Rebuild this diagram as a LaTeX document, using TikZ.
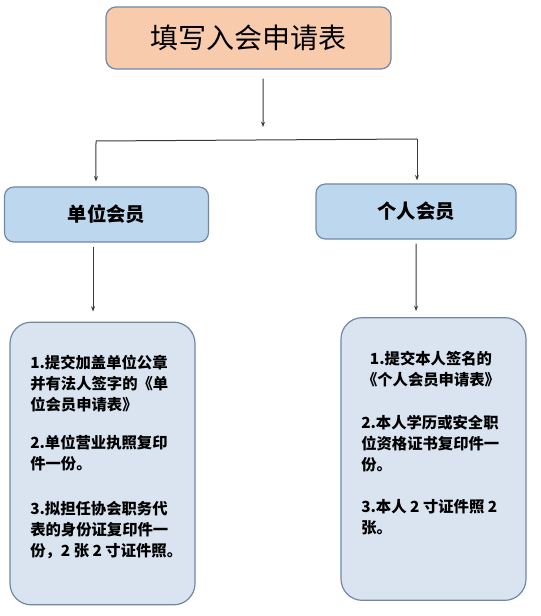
\documentclass[tikz,border=0pt]{standalone}
\usepackage{fontspec}
\setmainfont{Noto Sans CJK SC}
\usetikzlibrary{arrows.meta}
\definecolor{peach}{HTML}{F8CBAD}
\definecolor{midblue}{HTML}{BDD7EE}
\definecolor{lightblue}{HTML}{DAE4F1}
\definecolor{edgeblue}{HTML}{6F88A8}
\definecolor{linegray}{HTML}{3A3A3A}
\tikzset{
  titlebox/.style={draw=edgeblue, fill=peach, rounded corners=7.5pt, line width=0.9pt,
    minimum width=213.75pt, minimum height=46.5pt, font=\fontsize{21pt}{24pt}\selectfont},
  midbox/.style={draw=edgeblue, fill=midblue, rounded corners=7pt, line width=0.9pt,
    minimum width=153pt, minimum height=41.25pt, font=\bfseries\fontsize{14.5pt}{17pt}\selectfont},
  bigbox/.style={draw=edgeblue, fill=lightblue, rounded corners=16pt, line width=0.9pt,
    minimum width=138.75pt, minimum height=212pt},
  bodytext/.style={align=left, inner sep=0pt, font=\bfseries\fontsize{11.5pt}{15.75pt}\selectfont},
  arr/.style={draw=linegray, line width=0.75pt, -{Stealth[length=4pt,width=3pt]}},
  ln/.style={draw=linegray, line width=0.75pt}
}
\begin{document}
\begin{tikzpicture}[x=0.75pt,y=-0.75pt]
\useasboundingbox (0,0) rectangle (540,616);
\node[titlebox] (top) at (248.5,38) {填写入会申请表};
\node[midbox] (unit) at (106.5,214.5) {单位会员};
\node[midbox, minimum width=150pt] (pers) at (416,211.5) {个人会员};
\node[bigbox] (ubig) at (102.5,463.5) {};
\node[bigbox] (pbig) at (433.5,459) {};
\node[bodytext, anchor=north west] (utext) at (30,355) {%
1.提交加盖单位公章\\并有法人签字的《单\\位会员申请表》\\[12.75pt]%
2.单位营业执照复印\\件一份。\\[18pt]%
3.拟担任协会职务代\\表的身份证复印件一\\份，2 张 2 寸证件照。};
\node[bodytext, align=center, anchor=north] (ptext1) at (431,351) {%
1.提交本人签名的\\《个人会员申请表》};
\node[bodytext, anchor=north west] (ptext2) at (361,415) {%
2.本人学历或安全职\\位资格证书复印件一\\份。\\[16pt]%
3.本人 2 寸证件照 2\\张。};
\coordinate (j) at (263,127);
\coordinate (hl) at (96,141);
\coordinate (hr) at (417,139);
\draw[arr] ([xshift=10.9pt,yshift=-6.75pt]top.south) -- (j);
\draw[ln] (hl) -- (hr);
\draw[arr] (hl) -- ([xshift=-7.9pt,yshift=3.75pt]unit.north);
\draw[arr] (hr) -- ([xshift=0.75pt,yshift=2.25pt]pers.north);
\draw[arr] ([xshift=-10.1pt,yshift=-3pt]unit.south) -- ([xshift=-7.1pt,yshift=7.5pt]ubig.north);
\draw[arr] ([xshift=0pt,yshift=-3pt]pers.south) -- ([xshift=-13.1pt,yshift=4.5pt]pbig.north);
\end{tikzpicture}
\end{document}
